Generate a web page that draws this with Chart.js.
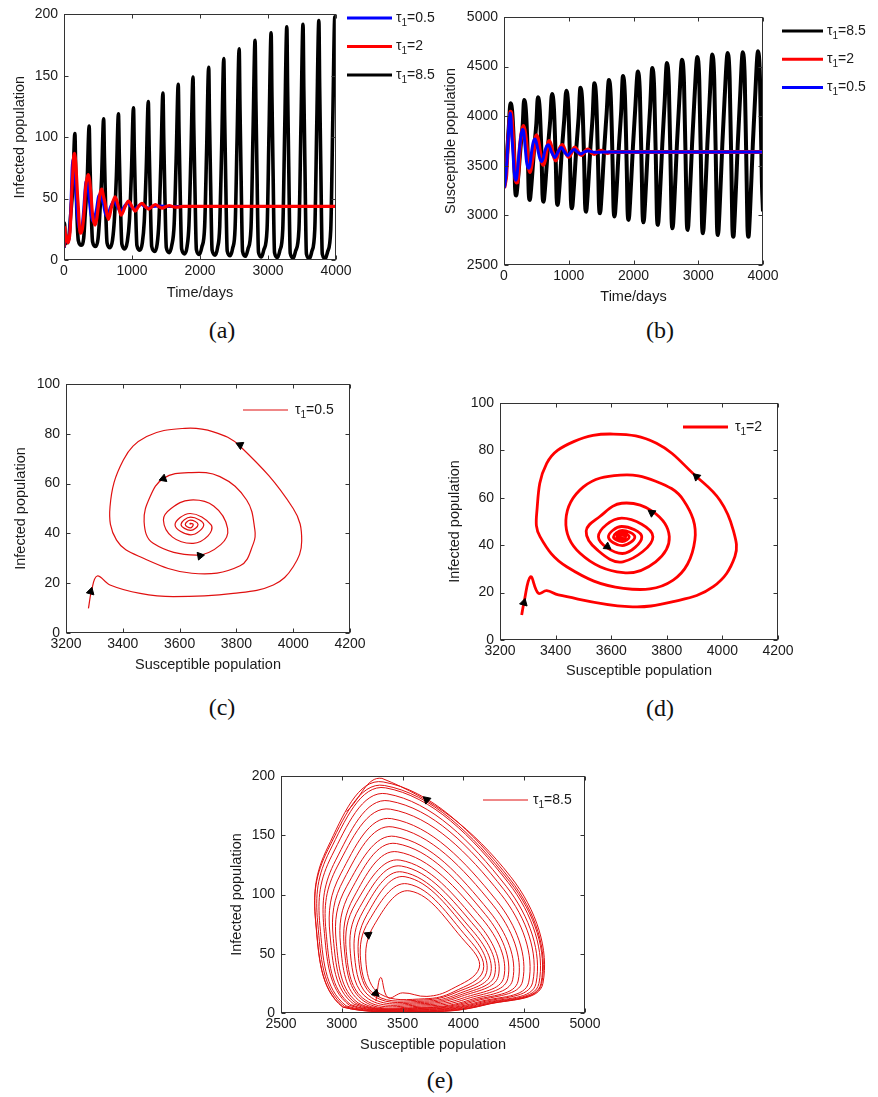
<!DOCTYPE html>
<html>
<head>
<meta charset="utf-8">
<script src="https://cdn.jsdelivr.net/npm/chart.js@4.4.1/dist/chart.umd.min.js"></script>
<style>
    body { margin: 0; background: #fff; }
    #page { position: relative; width: 878px; height: 1097px; overflow: hidden; }
    canvas { position: absolute; }
    .lettre {
        position: absolute;
        font-family: "Liberation Serif", "DejaVu Serif", serif;
        font-size: 24px;
        color: #111;
        transform: translate(-50%, -50%);
    }
</style>
</head>
<body>
<div id="page">
    <canvas id="grapheA" width="429" height="302" style="left:11px;top:0px"></canvas>
    <canvas id="grapheB" width="436" height="306" style="left:442px;top:0px"></canvas>
    <canvas id="grapheC" width="428" height="324" style="left:12px;top:350px"></canvas>
    <canvas id="grapheD" width="432" height="300" style="left:446px;top:380px"></canvas>
    <canvas id="grapheE" width="422" height="304" style="left:228px;top:750px"></canvas>
    <div class="lettre" style="left:222px;top:330px">(a)</div>
    <div class="lettre" style="left:660px;top:330px">(b)</div>
    <div class="lettre" style="left:222px;top:707px">(c)</div>
    <div class="lettre" style="left:660px;top:708px">(d)</div>
    <div class="lettre" style="left:440px;top:1080px">(e)</div>
</div>
<script>
// Valeurs de tau1 pour les légendes
const taus = ['0.5', '2', '8.5'];

// tau1 = 0.5 : temps (jours), population susceptible, population infectée
const t05 = [0, 6, 12, 22, 35, 48, 65, 78, 87, 95,
    105, 120, 130, 140, 152, 163, 180, 195, 210, 235,
    265, 282, 290, 305, 320, 335, 348, 362, 380, 400,
    430, 455, 480, 505, 530, 555, 580, 605, 630, 660,
    685, 735, 785, 835, 885, 935, 985, 1035, 1085, 1135,
    1185, 1235, 1300, 1400, 1550, 4000];
const s05 = [3279, 3290, 3310, 3355, 3461, 3578, 3789, 3930, 4000, 4030,
    4000, 3813, 3719, 3619, 3484, 3402, 3355, 3378, 3461, 3643,
    3813, 3860, 3865, 3836, 3742, 3631, 3543, 3496, 3475, 3507,
    3660, 3745, 3769, 3720, 3637, 3570, 3543, 3575, 3648, 3700,
    3711, 3637, 3584, 3640, 3685, 3639, 3605, 3639, 3665, 3638,
    3620, 3638, 3648, 3637, 3638, 3638];
const i05 = [9.9, 17, 22.9, 19.3, 15.9, 14.6, 15.9, 19.3, 26.6, 37,
    50, 75, 80.8, 82.2, 78.9, 69.5, 50.7, 37.3, 30.6, 24,
    27, 36, 41.4, 53.4, 62.8, 64.4, 62.1, 54.7, 44.7, 36,
    31.3, 35.5, 42, 51, 53.4, 50, 45.4, 38.5, 36, 39,
    43.4, 48, 43.4, 39.4, 43.5, 46.5, 43.6, 41.2, 43.6, 45.3,
    43.6, 42.2, 43.6, 44, 43.5, 43.5];

// tau1 = 2
const t2 = [0, 5, 12, 20, 28, 35, 55, 72, 88, 100,
    108, 118, 128, 140, 153, 165, 178, 198, 210, 222,
    240, 270, 300, 318, 340, 359, 378, 400, 420, 457,
    480, 505, 530, 556, 580, 605, 630, 654, 700, 752,
    800, 840, 900, 949, 1000, 1047, 1095, 1145, 1195, 1244,
    1295, 1345, 1395, 1445, 1500, 1550, 1600, 1650, 1750, 4000];
const s2 = [3278, 3286, 3310, 3338, 3368, 3410, 3662, 3823, 3967, 4045,
    4039, 3991, 3907, 3763, 3608, 3465, 3368, 3332, 3344, 3440,
    3644, 3823, 3901, 3860, 3760, 3633, 3500, 3437, 3488, 3644,
    3760, 3809, 3750, 3638, 3558, 3510, 3550, 3642, 3750, 3638,
    3554, 3640, 3710, 3638, 3590, 3640, 3685, 3639, 3608, 3640,
    3665, 3639, 3620, 3640, 3652, 3639, 3630, 3640, 3640, 3640];
const i2 = [10.5, 15.7, 26.7, 19.7, 20.8, 19, 14.1, 16.2, 22.5, 35.2,
    46.4, 59, 68.9, 83, 86.9, 83.7, 74.5, 53.4, 43.6, 30.9,
    21.8, 25.3, 42.2, 59, 67, 69.6, 64.6, 50.6, 36.6, 28.4,
    33, 43.6, 54.2, 57.7, 52, 46, 38, 33, 43.6, 51.4,
    43.6, 36.5, 43.5, 47.9, 43.5, 39.8, 43.5, 46.2, 43.5, 41.5,
    43.5, 45.2, 43.5, 42.3, 43.5, 44.3, 43.5, 43, 43.6, 43.6];

// tau1 = 8.5 (un cycle par ligne)
const t85 = [0, 8, 20, 35, 55, 75,
    100, 130, 160, 172, 188, 210, 255, 290,
    310, 340, 370, 382, 398, 420, 465, 500,
    523, 553, 583, 595, 611, 633, 678, 713,
    741, 771, 801, 813, 829, 851, 896, 931,
    962, 992, 1022, 1034, 1050, 1072, 1117, 1152,
    1180, 1210, 1240, 1252, 1268, 1290, 1335, 1370,
    1395, 1425, 1455, 1467, 1483, 1505, 1550, 1585,
    1620, 1650, 1680, 1692, 1708, 1730, 1775, 1810,
    1837, 1867, 1897, 1909, 1925, 1947, 1992, 2027,
    2068, 2098, 2128, 2140, 2156, 2178, 2223, 2258,
    2290, 2320, 2350, 2362, 2378, 2400, 2445, 2480,
    2516, 2546, 2576, 2588, 2604, 2626, 2671, 2706,
    2750, 2780, 2810, 2822, 2838, 2860, 2905, 2940,
    2986, 3016, 3046, 3058, 3074, 3096, 3141, 3176,
    3217, 3247, 3277, 3289, 3305, 3327, 3372, 3407,
    3455, 3485, 3515, 3527, 3543, 3565, 3610, 3645,
    3688, 3718, 3748, 3760, 3776, 3798, 3843, 3878,
    3923, 3953, 3983, 4000];
const s85 = [3280, 3320, 3380, 3500, 3700, 3900,
    4130, 4016, 3560, 3265, 3200, 3316, 3682, 3922,
    4163, 4038, 3540, 3224, 3155, 3279, 3672, 3931,
    4190, 4056, 3520, 3207, 3138, 3268, 3681, 3953,
    4224, 4079, 3500, 3176, 3105, 3243, 3681, 3969,
    4257, 4104, 3490, 3146, 3071, 3217, 3679, 3983,
    4287, 4126, 3480, 3117, 3037, 3193, 3685, 4008,
    4332, 4158, 3460, 3100, 3021, 3182, 3693, 4029,
    4365, 4182, 3450, 3073, 2990, 3160, 3698, 4051,
    4405, 4212, 3440, 3041, 2954, 3134, 3702, 4076,
    4450, 4244, 3420, 3018, 2930, 3117, 3709, 4098,
    4487, 4272, 3410, 2994, 2903, 3099, 3720, 4129,
    4537, 4310, 3400, 2965, 2870, 3074, 3720, 4145,
    4570, 4334, 3390, 2950, 2853, 3062, 3725, 4161,
    4597, 4352, 3370, 2919, 2820, 3036, 3720, 4171,
    4621, 4369, 3360, 2902, 2802, 3022, 3720, 4179,
    4638, 4380, 3350, 2887, 2785, 3008, 3715, 4179,
    4644, 4383, 3340, 2885, 2785, 3009, 3720, 4187,
    4654, 4389, 3330, 3040];
const i85 = [10, 30, 13, 17, 14, 20,
    38, 60, 103, 74, 41, 16, 12, 18,
    36, 63, 109, 78, 44, 15, 11, 17,
    34, 67, 115, 83, 46, 14, 10, 16,
    33, 69, 119, 86, 48, 13, 9, 15,
    32, 72, 124, 89, 50, 12, 8, 14,
    31, 75, 129, 93, 52, 11, 7, 13,
    30, 79, 136, 98, 54, 10, 6, 12,
    29, 83, 143, 103, 57, 9, 5, 11,
    28, 86, 149, 107, 60, 8.5, 4.5, 10.5,
    27, 91, 157, 113, 63, 8, 4, 10,
    27, 95, 164, 118, 66, 7.5, 3.5, 9.5,
    26, 100, 172, 124, 69, 7, 3, 9,
    26, 104, 179, 129, 72, 6.5, 2.5, 8.5,
    25, 107, 185, 133, 74, 6, 2, 8,
    25, 110, 190, 137, 76, 5.5, 1.5, 7.5,
    25, 111, 192, 138, 77, 5, 1.2, 7,
    25, 113, 195, 140, 78, 5, 1, 7,
    25, 115, 198, 170];

// Flèches sur les portraits de phase (S, I, angle en degrés)
const flecheC_S = [3813, 3543, 3672, 3287];
const flecheC_I = [75.5, 62, 31, 16.6];
const flecheC_angle = [-65, -110, 80, 15];
const flecheD_S = [3286, 3907, 3746, 3586];
const flecheD_I = [15.7, 68.9, 53.7, 39.4];
const flecheD_angle = [15, -48, -55, 125];
const flecheE_S = [3698, 3218, 3279];
const flecheE_I = [180, 66, 16.6];
const flecheE_angle = [-48, 175, 12];

// Réglages généraux
Chart.defaults.font.family = '"Liberation Sans", Arial, sans-serif';
Chart.defaults.font.size = 14;
Chart.defaults.color = '#1a1a1a';
Chart.defaults.animation = false;

// Fonction pour assembler des points {x, y}
function points(xs, ys) {
    return xs.map((x, i) => ({ x: x, y: ys[i] }));
}

// Plugin pour le cadre et les graduations vers l'intérieur
const cadre = {
    id: 'cadre',
    afterDatasetsDraw(chart) {
        const { ctx, chartArea, scales } = chart;
        const g = Math.round(chartArea.left) + 0.5;
        const d = Math.round(chartArea.right) - 0.5;
        const h = Math.round(chartArea.top) + 0.5;
        const b = Math.round(chartArea.bottom) - 0.5;
        const lg = 4;
        ctx.save();
        ctx.strokeStyle = '#333';
        ctx.lineWidth = 1;
        ctx.strokeRect(g, h, d - g, b - h);
        ctx.beginPath();
        scales.x.ticks.forEach(tick => {
            const px = Math.round(scales.x.getPixelForValue(tick.value)) + 0.5;
            ctx.moveTo(px, b); ctx.lineTo(px, b - lg);
            ctx.moveTo(px, h); ctx.lineTo(px, h + lg);
        });
        scales.y.ticks.forEach(tick => {
            const py = Math.round(scales.y.getPixelForValue(tick.value)) + 0.5;
            ctx.moveTo(g, py); ctx.lineTo(g + lg, py);
            ctx.moveTo(d, py); ctx.lineTo(d - lg, py);
        });
        ctx.stroke();
        ctx.restore();
    }
};

// Plugin pour la légende avec l'indice de tau
const legende = {
    id: 'legende',
    afterDraw(chart, args, opts) {
        if (!opts.items) return;
        const ctx = chart.ctx;
        ctx.save();
        opts.items.forEach((item, k) => {
            const y = opts.y + k * (opts.ecart || 0);
            ctx.strokeStyle = item.couleur;
            ctx.lineWidth = item.epaisseur;
            ctx.beginPath();
            ctx.moveTo(opts.x1, y);
            ctx.lineTo(opts.x2, y);
            ctx.stroke();
            let x = opts.xTexte;
            ctx.fillStyle = '#1a1a1a';
            ctx.textBaseline = 'middle';
            ctx.font = '14px "Liberation Sans", Arial, sans-serif';
            ctx.fillText('\u03c4', x, y);
            x += ctx.measureText('\u03c4').width;
            ctx.font = '10px "Liberation Sans", Arial, sans-serif';
            ctx.fillText('1', x, y + 5);
            x += ctx.measureText('1').width;
            ctx.font = '14px "Liberation Sans", Arial, sans-serif';
            ctx.fillText('=' + item.valeur, x, y);
        });
        ctx.restore();
    }
};

// Fonction pour construire les options communes des axes
function options(cfg) {
    return {
        responsive: false,
        animation: false,
        layout: { padding: { top: cfg.haut, right: cfg.droite, left: 0, bottom: 0 } },
        plugins: {
            legend: { display: false },
            tooltip: { enabled: false },
            legende: cfg.legende
        },
        scales: {
            x: {
                type: 'linear',
                min: cfg.x[0], max: cfg.x[1],
                ticks: { stepSize: cfg.x[2], padding: 3, maxRotation: 0, autoSkip: false, callback: v => String(v) },
                grid: { display: false, drawTicks: false },
                border: { display: false },
                title: { display: true, text: cfg.titreX, font: { size: 14.5 }, padding: 0 },
                afterFit: s => { s.height = cfg.hauteurX; }
            },
            y: {
                type: 'linear',
                min: cfg.y[0], max: cfg.y[1],
                ticks: { stepSize: cfg.y[2], padding: 6, autoSkip: false, callback: v => String(v) },
                grid: { display: false, drawTicks: false },
                border: { display: false },
                title: { display: true, text: cfg.titreY, font: { size: 14.5 }, padding: 0 },
                afterFit: s => { s.width = cfg.largeurY; }
            }
        }
    };
}

// Fonction pour une courbe
function courbe(xs, ys, couleur, epaisseur, lisse) {
    const ds = {
        data: points(xs, ys),
        borderColor: couleur,
        borderWidth: epaisseur,
        pointRadius: 0,
        fill: false
    };
    if (lisse === 'monotone') {
        ds.cubicInterpolationMode = 'monotone';
    } else {
        ds.tension = 0.4;
    }
    return ds;
}

// Fonction pour les flèches
function fleches(xs, ys, angles) {
    return {
        data: points(xs, ys),
        showLine: false,
        pointStyle: 'triangle',
        pointRadius: 4.5,
        pointRotation: angles,
        backgroundColor: '#000',
        borderColor: '#000',
        borderWidth: 1
    };
}

// (a) Population infectée en fonction du temps
new Chart(document.getElementById('grapheA'), {
    type: 'line',
    data: {
        datasets: [
            courbe(t2, i2, '#ff0000', 3.2, 'monotone'),
            courbe(t05, i05, '#0000ff', 3, 'monotone'),
            courbe(t85, i85, '#000000', 3.6, 'monotone')
        ]
    },
    options: options({
        haut: 13, droite: 104, largeurY: 53, hauteurX: 42,
        x: [0, 4000, 1000], y: [0, 200, 50],
        titreX: 'Time/days', titreY: 'Infected population',
        legende: {
            x1: 336, x2: 381, xTexte: 385, y: 18, ecart: 28.5,
            items: [
                { couleur: '#0000ff', epaisseur: 3, valeur: taus[0] },
                { couleur: '#ff0000', epaisseur: 3, valeur: taus[1] },
                { couleur: '#000000', epaisseur: 3, valeur: taus[2] }
            ]
        }
    }),
    plugins: [cadre, legende]
});

// (b) Population susceptible en fonction du temps
new Chart(document.getElementById('grapheB'), {
    type: 'line',
    data: {
        datasets: [
            courbe(t05, s05, '#0000ff', 3, 'monotone'),
            courbe(t2, s2, '#ff0000', 4, 'monotone'),
            courbe(t85, s85, '#000000', 4, 'monotone')
        ]
    },
    options: options({
        haut: 17, droite: 115, largeurY: 62, hauteurX: 41,
        x: [0, 4000, 1000], y: [2500, 5000, 500],
        titreX: 'Time/days', titreY: 'Susceptible population',
        legende: {
            x1: 340, x2: 381, xTexte: 385, y: 31, ecart: 28.3,
            items: [
                { couleur: '#000000', epaisseur: 3, valeur: taus[2] },
                { couleur: '#ff0000', epaisseur: 3, valeur: taus[1] },
                { couleur: '#0000ff', epaisseur: 3, valeur: taus[0] }
            ]
        }
    }),
    plugins: [cadre, legende]
});

// (c) Portrait de phase pour tau1 = 0.5
new Chart(document.getElementById('grapheC'), {
    type: 'line',
    data: {
        datasets: [
            fleches(flecheC_S, flecheC_I, flecheC_angle),
            courbe(s05, i05, '#e01010', 1.2)
        ]
    },
    options: options({
        haut: 34, droite: 90, largeurY: 54, hauteurX: 41,
        x: [3200, 4200, 200], y: [0, 100, 20],
        titreX: 'Susceptible population', titreY: 'Infected population',
        legende: {
            x1: 231, x2: 276, xTexte: 283, y: 60,
            items: [{ couleur: '#e01010', epaisseur: 1.2, valeur: taus[0] }]
        }
    }),
    plugins: [cadre, legende]
});

// (d) Portrait de phase pour tau1 = 2
new Chart(document.getElementById('grapheD'), {
    type: 'line',
    data: {
        datasets: [
            fleches(flecheD_S, flecheD_I, flecheD_angle),
            courbe(s2, i2, '#ff0000', 2.8)
        ]
    },
    options: options({
        haut: 23, droite: 100, largeurY: 54, hauteurX: 40,
        x: [3200, 4200, 200], y: [0, 100, 20],
        titreX: 'Susceptible population', titreY: 'Infected population',
        legende: {
            x1: 237, x2: 282, xTexte: 289, y: 47,
            items: [{ couleur: '#ff0000', epaisseur: 2.8, valeur: taus[1] }]
        }
    }),
    plugins: [cadre, legende]
});

// (e) Portrait de phase pour tau1 = 8.5
new Chart(document.getElementById('grapheE'), {
    type: 'line',
    data: {
        datasets: [
            fleches(flecheE_S, flecheE_I, flecheE_angle),
            courbe(s85, i85, '#e01010', 1)
        ]
    },
    options: options({
        haut: 26, droite: 65, largeurY: 53, hauteurX: 41,
        x: [2500, 5000, 500], y: [0, 200, 50],
        titreX: 'Susceptible population', titreY: 'Infected population',
        legende: {
            x1: 255, x2: 300, xTexte: 305, y: 50,
            items: [{ couleur: '#e01010', epaisseur: 1, valeur: taus[2] }]
        }
    }),
    plugins: [cadre, legende]
});
</script>
</body>
</html>
